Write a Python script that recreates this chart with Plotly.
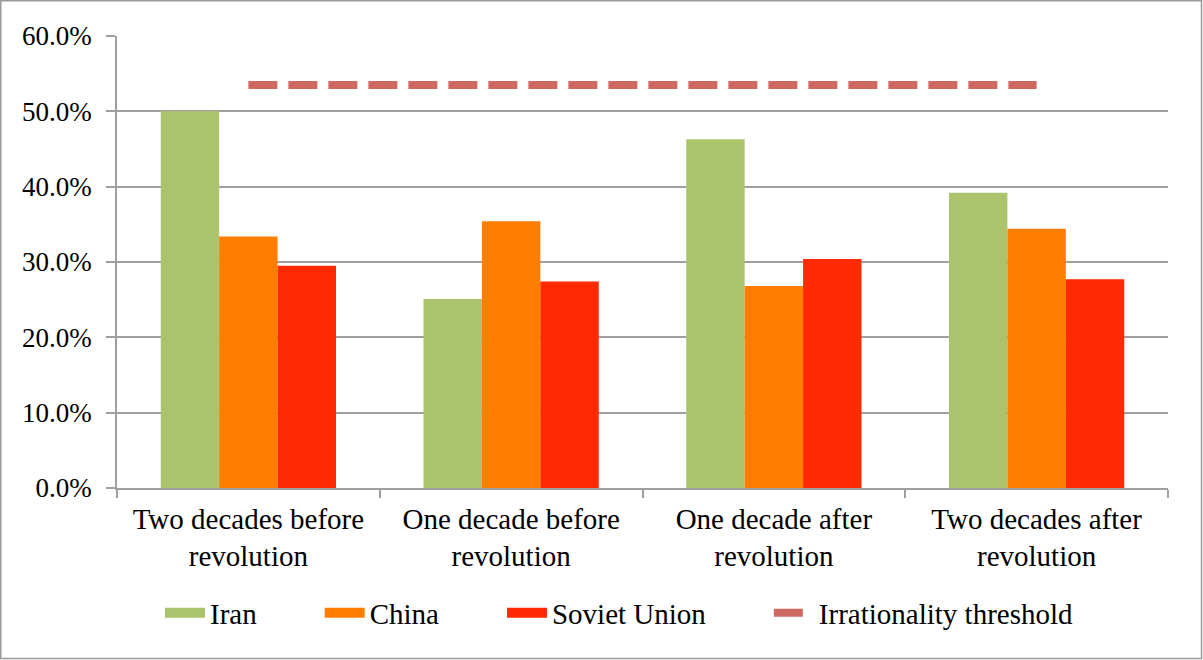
import plotly.graph_objects as go

categories = ["Two decades before<br>revolution", "One decade before<br>revolution",
              "One decade after<br>revolution", "Two decades after<br>revolution"]
iran = [50.0, 25.1, 46.3, 39.2]
china = [33.4, 35.4, 26.8, 34.4]
soviet = [29.5, 27.4, 30.4, 27.7]
threshold = [53.5, 53.5, 53.5, 53.5]
y_ticks = [0, 10, 20, 30, 40, 50, 60]
y_ticktext = [f"{v:.1f}%" for v in y_ticks]

W, H = 1203, 660
ML, MR, MT, MB = 117, 35, 36, 172
FONT = "Liberation Serif"
GRID = "#A0A0A0"
PAD = "\u00a0" * 8

fig = go.Figure()
for name, vals, col in [("Iran", iran, "#ABC46B"), ("China", china, "#FF7D00"),
                        ("Soviet Union", soviet, "#FF2A00")]:
    fig.add_trace(go.Bar(x=categories, y=vals, name=name, marker_color=col,
                         marker_line_width=0, showlegend=False))
    fig.add_trace(go.Scatter(x=[None], y=[None], mode="lines", name=name + PAD,
                             line=dict(color=col, width=15), showlegend=True))

fig.add_trace(go.Scatter(x=categories, y=threshold, mode="lines",
                         name="Irrationality threshold",
                         line=dict(color="#D06862", width=8, dash="29px,11px")))

pw = W - ML - MR
ph = H - MT - MB
bottom_px = H - MB
fig.add_shape(type="rect", xref="paper", yref="paper",
              x0=(0.75 - ML) / pw, x1=(W - 1.5 - ML) / pw,
              y0=(bottom_px - (H - 1.5)) / ph, y1=(bottom_px - 0.75) / ph,
              line=dict(color="#9A9A9A", width=1.5), fillcolor="rgba(0,0,0,0)", layer="below")

fig.update_layout(
    width=W, height=H,
    margin=dict(l=ML, r=MR, t=MT, b=MB, autoexpand=False),
    paper_bgcolor="white", plot_bgcolor="white",
    font=dict(family=FONT, size=29, color="black"),
    barmode="group", bargap=0.333, bargroupgap=0,
    legend=dict(orientation="h", xref="container", yref="container",
                x=160 / W, xanchor="left", y=1 - 613 / H, yanchor="middle",
                font=dict(size=29, family=FONT, color="black"), itemwidth=40,
                traceorder="normal", bgcolor="rgba(0,0,0,0)"),
    xaxis=dict(showline=True, linecolor=GRID, linewidth=1.5, ticks="outside",
               tickson="boundaries", ticklen=8, tickcolor=GRID, tickwidth=1.5,
               showgrid=False, ticklabelstandoff=4, automargin=False,
               tickfont=dict(size=29)),
    yaxis=dict(range=[0, 60], tickvals=y_ticks, ticktext=y_ticktext,
               showline=True, linecolor=GRID, linewidth=1.5, ticks="outside",
               ticklen=9, tickcolor=GRID, tickwidth=1.5, showgrid=True,
               gridcolor=GRID, gridwidth=1.5, zeroline=False, ticklabelstandoff=9,
               automargin=False, tickfont=dict(size=27)),
)

fig.write_html("out.html", config={"displayModeBar": False},
               post_script="document.body.style.margin='0';")
